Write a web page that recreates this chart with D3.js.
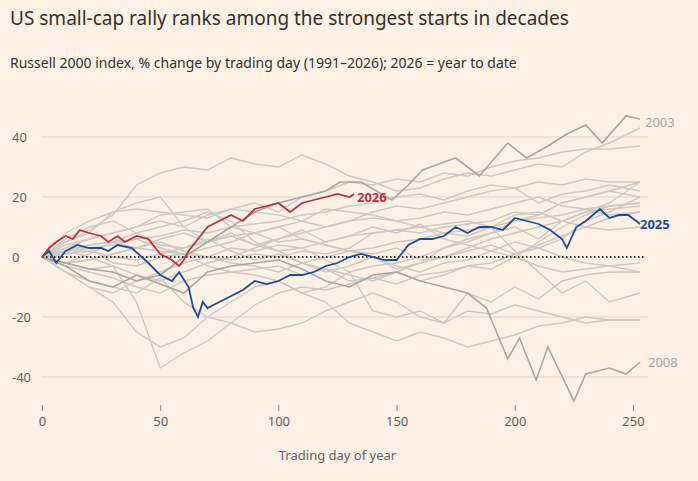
<!DOCTYPE html>
<html><head><meta charset="utf-8">
<script src="https://cdn.jsdelivr.net/npm/d3@7"></script>
<style>
body{margin:0;background:#fdf1e5;font-family:"Noto Sans",sans-serif;}
</style></head><body>
<svg id="chart" width="698" height="481"></svg>
<script>
// background years, sampled every 10 trading days (last = day 253)
const bgDays = [0,10,20,30,40,50,60,70,80,90,100,110,120,130,140,150,160,170,180,190,200,210,220,230,240,253];
const bgYears = {
  "1991": [0,5,9,14,24,28,30,29,33,31,30,34,31,27,25,22,23,26,28,27,29,31,30,35,38,43],
  "1992": [0,6,10,12,8,4,3,6,2,-1,1,-2,0,2,1,3,-1,0,2,4,1,4,7,10,13,15],
  "1995": [0,2,3,4,6,7,9,8,10,11,12,14,15,17,18,20,21,19,22,24,23,25,24,26,25,25],
  "1997": [0,-2,-4,-3,-6,-8,-5,-2,0,3,6,8,10,12,15,17,16,18,20,22,23,18,21,22,24,22],
  "1999": [0,-3,-5,-7,-10,-12,-8,-6,-5,-4,-3,-6,-4,-8,-7,-9,-6,-5,-3,-2,1,3,6,12,15,20],
  "2000": [0,5,8,15,18,20,10,5,8,4,6,9,5,7,10,8,11,6,4,2,0,-3,-5,-4,-3,-5],
  "2002": [0,-2,-1,1,3,2,1,-3,-5,-6,-8,-12,-15,-22,-25,-28,-25,-27,-30,-28,-26,-23,-22,-20,-21,-21],
  "2004": [0,2,4,5,6,3,1,0,-2,-3,-5,-2,-4,-6,-8,-5,-2,0,3,6,8,10,12,15,16,17],
  "2006": [0,3,6,8,10,14,15,16,10,8,5,6,4,2,3,5,6,8,9,10,12,13,14,16,17,18],
  "2007": [0,1,2,0,-1,1,3,5,7,8,10,6,4,2,0,-3,-5,-2,-1,2,5,3,0,-2,-3,-2],
  "2009": [0,-5,-10,-15,-25,-30,-27,-20,-15,-10,-8,-12,-10,-5,-3,-2,0,3,5,8,10,6,12,15,18,25],
  "2010": [0,-2,1,5,8,10,12,15,12,5,2,-2,-5,-3,0,-4,-2,3,6,8,12,14,18,20,22,25],
  "2011": [0,2,4,5,3,6,8,5,7,4,2,3,-1,-5,-18,-20,-18,-22,-12,-15,-10,-14,-8,-6,-5,-5],
  "2013": [0,4,6,8,10,12,10,14,16,18,15,20,22,25,24,26,25,28,27,30,32,33,35,36,36,37],
  "2016": [0,-5,-10,-12,-8,-5,-2,0,3,2,4,3,5,7,8,9,8,10,11,12,15,14,18,20,22,20],
  "2018": [0,1,3,-2,-3,0,1,3,5,8,10,12,10,12,13,12,10,11,12,10,2,-5,-12,-8,-15,-12],
  "2020": [0,2,0,-3,-15,-37,-32,-28,-22,-16,-12,-10,-11,-9,-7,-5,-8,-6,-3,-4,0,5,10,14,17,18],
  "2021": [0,8,12,15,16,15,14,13,16,15,14,12,16,15,14,12,13,15,14,16,18,20,17,16,14,15],
  "2022": [0,-5,-8,-10,-12,-7,-15,-20,-22,-25,-24,-22,-18,-15,-12,-15,-20,-22,-18,-19,-16,-18,-20,-22,-21,-21],
  "2024": [0,-2,-1,1,3,5,2,0,-1,1,0,2,1,3,8,9,10,8,7,10,14,15,12,10,9,10]
};
const days2003 = [0,10,20,30,40,50,60,70,80,90,100,110,120,126,135,148,155,161,175,185,197,205,214,222,230,237,247,253];
const vals2003 = [0,-2,-4,-5,-8,-6,0,5,10,15,18,20,22,25,25,19,24,29,33,27,38,33,37,41,44,38,47,46];
const days2008 = [0,10,20,30,40,50,60,70,80,90,100,110,120,130,140,150,160,170,180,188,197,202,209,214,225,230,240,247,253];
const vals2008 = [0,-3,-8,-10,-6,-9,-12,-5,-3,-2,-1,-4,-8,-10,-6,-5,-8,-10,-12,-17,-34,-27,-41,-30,-48,-39,-37,-39,-35];
const days2025 = [0,3,6,10,15,20,25,28,32,38,45,50,55,58,62,64,66,68,70,75,80,85,90,95,100,105,110,115,120,125,130,135,140,145,150,155,160,165,170,175,180,185,190,195,200,205,210,215,220,222,226,230,236,240,244,248,253];
const vals2025 = [0,2,-2,2,4,3,3,2,4,3,-2,-6,-8,-5,-10,-17,-20,-15,-17,-15,-13,-11,-8,-9,-8,-6,-6,-5,-3,-2,0,1,0,-1,-1,4,6,6,7,10,8,10,10,9,13,12,11,9,6,3,10,12,16,13,14,14,11];
const days2026 = [0,3,6,10,13,16,20,25,28,32,35,40,45,50,55,58,60,62,65,70,75,80,85,90,95,100,105,110,115,120,125,130,132];
const vals2026 = [0,3,5,7,6,9,8,7,5,7,5,7,6,1,-1,-3,-1,2,5,10,12,14,12,16,17,18,15,18,19,20,21,20,21];
const yTicks = [-40,-20,0,20,40];
const xTicks = [0,50,100,150,200,250];

const svg = d3.select("#chart");
const x = d3.scaleLinear().domain([0,250]).range([42,633]);
const y = d3.scaleLinear().domain([0,40]).range([257,137]);

svg.append("text").attr("x",10).attr("y",25).attr("font-size",19).attr("fill","#33302e")
  .text("US small-cap rally ranks among the strongest starts in decades");
svg.append("text").attr("x",10).attr("y",68).attr("font-size",14).attr("fill","#33302e")
  .text("Russell 2000 index, % change by trading day (1991–2026); 2026 = year to date");

// grid
yTicks.forEach(t => {
  if (t !== 0) svg.append("line").attr("x1",x(0)).attr("x2",x(253)+8).attr("y1",y(t)).attr("y2",y(t))
    .attr("stroke","#e1d5c9").attr("stroke-width",1);
  svg.append("text").attr("x",12).attr("y",y(t)+5).attr("font-size",13).attr("fill","#66605c").text(t);
});

const line = d3.line().x(d => x(d[0])).y(d => y(d[1]));
Object.values(bgYears).forEach(v => {
  svg.append("path").datum(bgDays.map((d,i)=>[d,v[i]])).attr("d",line)
    .attr("fill","none").attr("stroke","#cdc8c3").attr("stroke-width",1.4);
});
[[days2003,vals2003],[days2008,vals2008]].forEach(([d,v]) => {
  svg.append("path").datum(d.map((e,i)=>[e,v[i]])).attr("d",line)
    .attr("fill","none").attr("stroke","#a8a5a2").attr("stroke-width",1.6);
});

svg.append("line").attr("x1",x(0)).attr("x2",x(253)+4).attr("y1",y(0)).attr("y2",y(0))
  .attr("stroke","#33302e").attr("stroke-width",1.8).attr("stroke-dasharray","1.5,2.5");

svg.append("path").datum(days2025.map((e,i)=>[e,vals2025[i]])).attr("d",line)
  .attr("fill","none").attr("stroke","#1f4d95").attr("stroke-width",1.8);
svg.append("path").datum(days2026.map((e,i)=>[e,vals2026[i]])).attr("d",line)
  .attr("fill","none").attr("stroke","#b9333c").attr("stroke-width",1.8);

svg.append("text").attr("x",645).attr("y",127).attr("font-size",13).attr("fill","#a8a5a2").text("2003");
svg.append("text").attr("x",648).attr("y",367).attr("font-size",13).attr("fill","#a8a5a2").text("2008");
svg.append("text").attr("x",640).attr("y",229).attr("font-size",13).attr("font-weight","bold").attr("fill","#1f4d95").text("2025");
svg.append("text").attr("x",357).attr("y",202).attr("font-size",13).attr("font-weight","bold").attr("fill","#b9333c").text("2026");

// x axis
const xg = svg.append("g").attr("transform","translate(0,405)")
  .call(d3.axisBottom(x).tickValues(xTicks).tickSize(6).tickPadding(6));
xg.select(".domain").remove();
xg.selectAll("line").attr("stroke","#8a8581");
xg.selectAll("text").attr("font-size",13).attr("fill","#66605c").attr("font-family","Noto Sans, sans-serif");
svg.append("text").attr("x",x(125)).attr("y",460).attr("text-anchor","middle").attr("font-size",13)
  .attr("fill","#66605c").text("Trading day of year");
</script></body></html>
